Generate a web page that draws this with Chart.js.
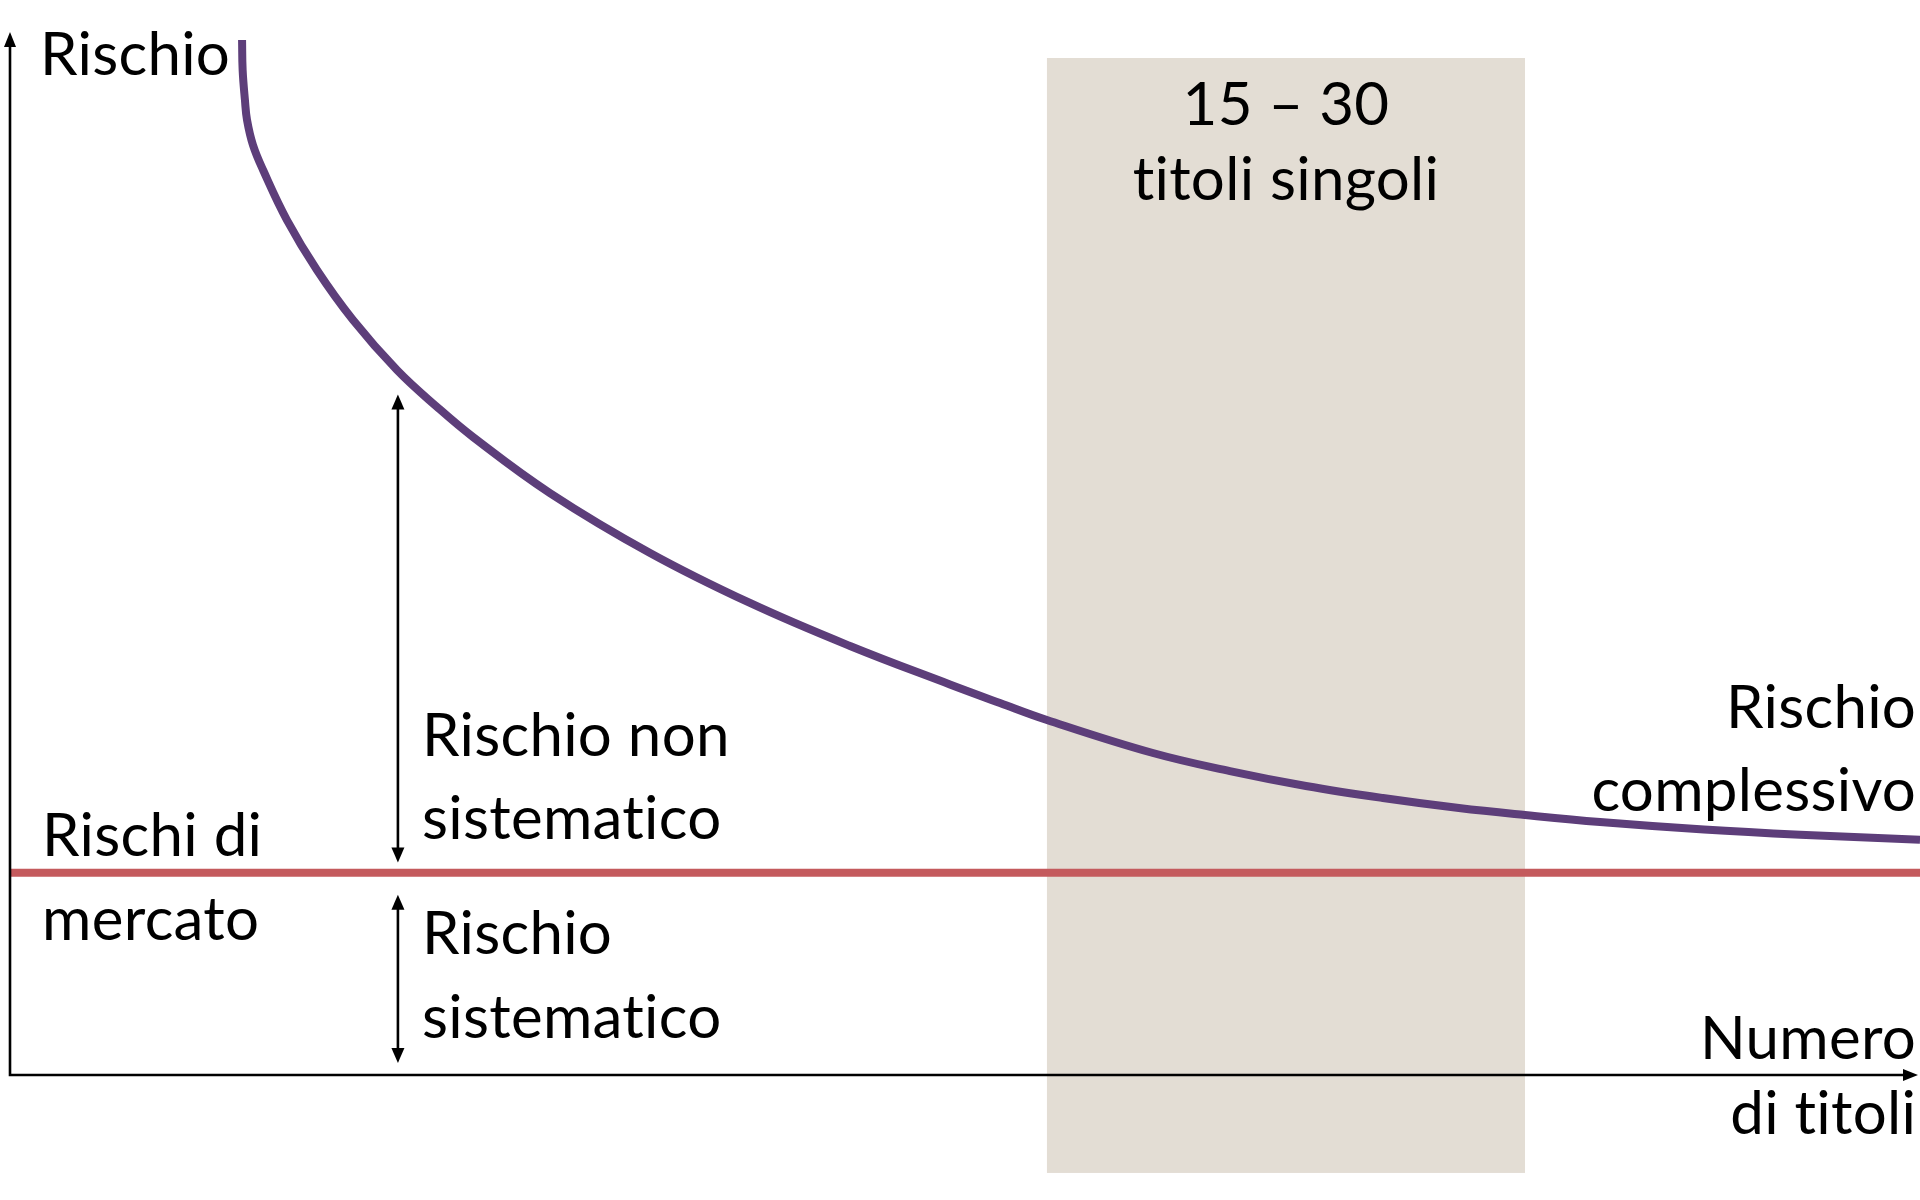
<!DOCTYPE html>
<html lang="it">
<head>
<meta charset="utf-8">
<title>Rischio e numero di titoli</title>
<script src="https://cdn.jsdelivr.net/npm/chart.js@4/dist/chart.umd.min.js"></script>
<style>
    html, body { margin: 0; padding: 0; background: #fff; }
    #wrap { width: 1920px; height: 1200px; }
</style>
</head>
<body>
<div id="wrap"><canvas id="riskChart" width="1920" height="1200"></canvas></div>
<script>
'use strict';

/* ── Data (abstract units: x 0–100 along the axis, y 0–100 risk) ─────────── */

const RISK_X      = [12.15, 12.18, 12.30, 12.41, 12.72, 13.25, 14.50, 16.07, 17.96, 20.26, 22.36, 24.24, 28.27,
                     33.51, 38.74, 43.98, 49.21, 51.83, 54.29, 59.84, 63.87, 67.85, 71.88, 75.86, 79.32,
                     83.25, 88.69, 93.72, 100];
const TOTAL_RISK  = [99.33, 96.45, 93.57, 91.65, 89.25, 86.85, 82.05, 77.26, 72.46, 67.66, 64.11, 61.23, 55.85,
                     50.10, 45.30, 41.17, 37.48, 35.70, 34.07, 30.90, 29.17, 27.74, 26.58, 25.62, 24.95,
                     24.28, 23.56, 23.06, 22.58];
const MARKET_X    = [0, 100];
const MARKET_RISK = [19.4, 19.4];
const BAND_RANGE  = [54.29, 79.32];          // zona "15 – 30 titoli singoli"
const BAND_LABEL  = ['15 – 30', 'titoli singoli'];

/* ── Styles ── */
const COLORS = { purple: '#5D3E7A', red: '#C45A5D', band: '#E3DDD4', ink: '#000000' };
const FONT = '60px Lato';

/* annotations, in data units */
const ARROWS = [
    { x: 20.31, from: 65.3, to: 20.4 },
    { x: 20.31, from: 17.3, to: 1.15 },
];
const LABELS = [
    { lines: ['Rischio'],                    x: 1.57,  y: 95.97, align: 'left',   gap: 83 },
    { lines: BAND_LABEL,                     x: (BAND_RANGE[0] + BAND_RANGE[1]) / 2, y: 91.17, align: 'center', gap: 75 },
    { lines: ['Rischio non', 'sistematico'], x: 21.57, y: 30.6,  align: 'left',   gap: 83 },
    { lines: ['Rischi di', 'mercato'],       x: 1.68,  y: 21.0,  align: 'left',   gap: 84 },
    { lines: ['Rischio', 'sistematico'],     x: 21.57, y: 11.6,  align: 'left',   gap: 84 },
    { lines: ['Rischio', 'complessivo'],     x: 99.8,  y: 33.3,  align: 'right',  gap: 83 },
    { lines: ['Numero', 'di titoli'],        x: 99.8,  y: 1.54,  align: 'right',  gap: 75 },
];

const toPoints = (xs, ys) => xs.map((x, i) => ({ x, y: ys[i] }));

/* ── Helpers ── */
function arrowHead(ctx, tx, ty, dx, dy, len = 15, half = 6.5) {
    ctx.beginPath();
    ctx.moveTo(tx, ty);
    ctx.lineTo(tx - dx * len - dy * half, ty - dy * len + dx * half);
    ctx.lineTo(tx - dx * len + dy * half, ty - dy * len - dx * half);
    ctx.closePath();
    ctx.fill();
}

/* ── Plugins ── */
const bandPlugin = {
    id: 'band',
    beforeDatasetsDraw(chart) {
        const { ctx, scales: { x, y } } = chart;
        const x0 = x.getPixelForValue(BAND_RANGE[0]);
        const x1 = x.getPixelForValue(BAND_RANGE[1]);
        const top = y.getPixelForValue(97.6);
        const bottom = y.getPixelForValue(-9.4);
        ctx.save();
        ctx.fillStyle = COLORS.band;
        ctx.fillRect(x0, top, x1 - x0, bottom - top);
        ctx.restore();
    },
};

const axesPlugin = {
    id: 'axes',
    afterDatasetsDraw(chart) {
        const { ctx, chartArea, scales: { x, y } } = chart;
        const ox = x.getPixelForValue(0);
        const oy = y.getPixelForValue(0);
        const topY = chartArea.top - 1;
        const rightX = chartArea.right - 2;
        ctx.save();
        ctx.strokeStyle = COLORS.ink;
        ctx.fillStyle = COLORS.ink;
        ctx.lineWidth = 2.6;

        // axes
        ctx.beginPath();
        ctx.moveTo(ox, topY + 12);
        ctx.lineTo(ox, oy);
        ctx.lineTo(rightX - 12, oy);
        ctx.stroke();
        arrowHead(ctx, ox, topY, 0, -1, 15, 6);
        arrowHead(ctx, rightX, oy, 1, 0, 15, 6);

        // double arrows
        ARROWS.forEach(a => {
            const px = x.getPixelForValue(a.x);
            const y0 = y.getPixelForValue(a.from);
            const y1 = y.getPixelForValue(a.to);
            ctx.beginPath();
            ctx.moveTo(px, y0 + 12);
            ctx.lineTo(px, y1 - 12);
            ctx.stroke();
            arrowHead(ctx, px, y0, 0, -1);
            arrowHead(ctx, px, y1, 0, 1);
        });
        ctx.restore();
    },
    afterDraw(chart) {
        const { ctx, scales: { x, y } } = chart;
        ctx.save();
        ctx.font = FONT;
        ctx.fillStyle = COLORS.ink;
        ctx.textBaseline = 'alphabetic';
        ctx.textRendering = 'optimizeSpeed';   // no "ti" ligature
        ctx.letterSpacing = '0.3px';
        LABELS.forEach(l => {
            ctx.textAlign = l.align;
            const px = x.getPixelForValue(l.x);
            const py = y.getPixelForValue(l.y);
            l.lines.forEach((t, i) => ctx.fillText(t, px, py + i * l.gap));
        });
        ctx.restore();
    },
};

/* ── Chart ── */
const ctxRisk = document.getElementById('riskChart').getContext('2d');
new Chart(ctxRisk, {
    type: 'scatter',
    data: {
        datasets: [
            { label: 'Rischi di mercato', data: toPoints(MARKET_X, MARKET_RISK), showLine: true, borderColor: COLORS.red, borderWidth: 8, pointRadius: 0, clip: false },
            { label: 'Rischio complessivo', data: toPoints(RISK_X, TOTAL_RISK), showLine: true, borderColor: COLORS.purple, borderWidth: 8, pointRadius: 0, tension: 0.4, clip: false },
        ],
    },
    options: {
        responsive: false,
        animation: false,
        events: [],
        layout: { padding: { left: 10, right: 0, top: 33, bottom: 125 } },
        plugins: { legend: { display: false }, tooltip: { enabled: false } },
        scales: {
            x: { type: 'linear', min: 0, max: 100, display: false },
            y: { type: 'linear', min: 0, max: 100, display: false },
        },
    },
    plugins: [bandPlugin, axesPlugin],
});
</script>
</body>
</html>
